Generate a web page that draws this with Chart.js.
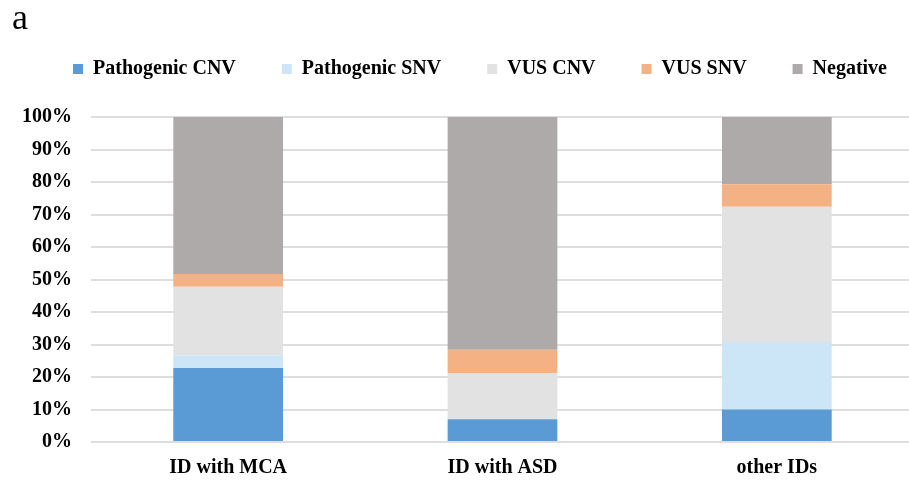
<!DOCTYPE html>
<html>
<head>
<meta charset="utf-8">
<script src="https://cdn.jsdelivr.net/npm/chart.js@4/dist/chart.umd.min.js"></script>
<style>
  html, body { margin: 0; padding: 0; background: #fff; overflow: hidden; }
  #wrap { position: relative; width: 960px; height: 480px; }
  #c { display: block; }
  #panel { position: absolute; left: 12px; top: -1px; font-family: 'Liberation Serif', 'Times New Roman', serif; font-size: 36px; line-height: 36px; color: #000; }
</style>
</head>
<body>
<div id="wrap"><canvas id="c" width="960" height="480"></canvas><div id="panel">a</div></div>
<script>
const categories = ["ID with MCA", "ID with ASD", "other IDs"];
const seriesNames = ["Pathogenic CNV", "Pathogenic SNV", "VUS CNV", "VUS SNV", "Negative"];
const pathogenicCNV = [22.8, 7.0, 10.0];
const pathogenicSNV = [3.8, 0.0, 20.8];
const vusCNV = [21.2, 14.2, 41.6];
const vusSNV = [3.9, 7.2, 6.9];
const negative = [48.3, 71.6, 20.7];
const yTicks = [0, 10, 20, 30, 40, 50, 60, 70, 80, 90, 100];
const colors = ["#5B9BD5", "#CCE5F7", "#E2E2E2", "#F4B183", "#AEAAAA"];

const values = [pathogenicCNV, pathogenicSNV, vusCNV, vusSNV, negative];
const serif = "'Liberation Serif', 'Times New Roman', serif";

const legendSpacer = {
  id: 'legendSpacer',
  beforeInit(chart) {
    const origFit = chart.legend.fit;
    chart.legend.fit = function () {
      origFit.bind(chart.legend)();
      this.height += 28;
    };
  }
};

new Chart(document.getElementById('c'), {
  type: 'bar',
  plugins: [legendSpacer],
  data: {
    labels: categories,
    datasets: seriesNames.map((n, i) => ({
      label: n,
      data: values[i],
      backgroundColor: colors[i],
      borderWidth: 0,
      barPercentage: 0.4,
      categoryPercentage: 1.0
    }))
  },
  options: {
    responsive: false,
    maintainAspectRatio: false,
    animation: false,
    layout: { padding: { left: 0, right: 0, top: 13, bottom: 0 } },
    plugins: {
      title: { display: false },
      legend: {
        position: 'top',
        labels: {
          color: '#000',
          boxWidth: 10,
          boxHeight: 10,
          padding: 46,
          font: { family: serif, size: 20, weight: 'bold' }
        }
      },
      tooltip: { enabled: false }
    },
    scales: {
      x: {
        stacked: true,
        afterFit: (axis) => { axis.height = 38; },
        grid: { display: false, drawTicks: false },
        border: { display: false },
        ticks: {
          color: '#000',
          padding: 14,
          maxRotation: 0,
          font: { family: serif, size: 20, weight: 'bold' }
        }
      },
      y: {
        stacked: true,
        min: 0,
        max: 100,
        afterBuildTicks: (axis) => { axis.ticks = yTicks.map(v => ({ value: v })); },
        afterFit: (axis) => { axis.width = 91; },
        grid: { color: '#DEDEDE', lineWidth: 2, drawTicks: false },
        border: { display: false },
        ticks: {
          color: '#000',
          padding: 19,
          autoSkip: false,
          font: { family: serif, size: 20, weight: 'bold' },
          callback: (v) => v + '%'
        }
      },
      yRight: {
        type: 'linear',
        position: 'right',
        min: 0,
        max: 100,
        grid: { display: false, drawTicks: false },
        border: { display: false },
        ticks: { display: false },
        afterFit: (axis) => { axis.width = 46; }
      }
    }
  }
});
</script>
</body>
</html>
